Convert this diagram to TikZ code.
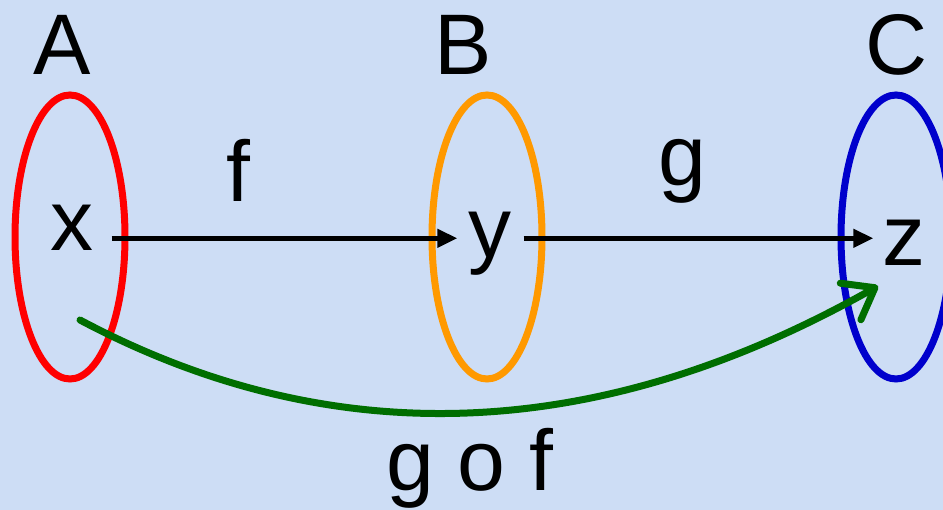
\documentclass[tikz,border=0pt]{standalone}
\usepackage{fontspec}
\setmainfont{Liberation Sans}
\usetikzlibrary{shapes.geometric,arrows.meta}
\definecolor{bgblue}{RGB}{205,221,245}
\definecolor{setred}{RGB}{255,0,0}
\definecolor{setorange}{RGB}{255,153,0}
\definecolor{setblue}{RGB}{0,0,204}
\definecolor{compgreen}{RGB}{0,110,0}
\begin{document}
\begin{tikzpicture}[x=1pt,y=-1pt,
  lbl/.style={inner sep=0pt,anchor=base,font=\fontsize{86}{86}\selectfont},
  setring/.style={ellipse,draw,line width=7pt,inner sep=0pt,minimum width=110pt,minimum height=284pt},
  maparrow/.style={line width=4.5pt,-{Triangle[length=20pt,width=18pt]}},
  comparrow/.style={line width=7pt,compgreen,line cap=round,-{Straight Barb[length=28pt,width=42pt,line cap=round,round]}}]
\clip (0,0) rectangle (943,510);
\fill[bgblue] (0,0) rectangle (943,510);
% sets
\node[setring,setred] (setA) at (70,237) {};
\node[setring,setorange] (setB) at (487,237) {};
\node[setring,setblue] (setC) at (896,237) {};
% set names
\node[lbl] (A) at (62,75) {A};
\node[lbl] (B) at (463,75) {B};
\node[lbl] (C) at (897,75) {C};
% elements
\node[lbl] (x) at (72,251) {x};
\node[lbl] (y) at (490,258) {y};
\node[lbl] (z) at (904,266) {z};
% map labels
\node[lbl] (f) at (238,202) {f};
\node[lbl] (g) at (682,186) {g};
\node[lbl] (gof) at (470,490) {g o f};
% arrows
\coordinate (xr) at ([xshift=18pt,yshift=-10pt]x.east);
\coordinate (yl) at ([xshift=-11pt]y.west |- xr);
\coordinate (yr) at ([xshift=12pt]y.east |- xr);
\coordinate (zl) at ([xshift=-9pt]z.west |- xr);
\draw[maparrow] (xr) -- (yl);
\draw[maparrow] (yr) -- (zl);
\coordinate (gstart) at (80,320);
\coordinate (gend) at (878,286);
\draw[comparrow] (gstart) .. controls (334,455) and (600,443) .. (gend);
\end{tikzpicture}
\end{document}
